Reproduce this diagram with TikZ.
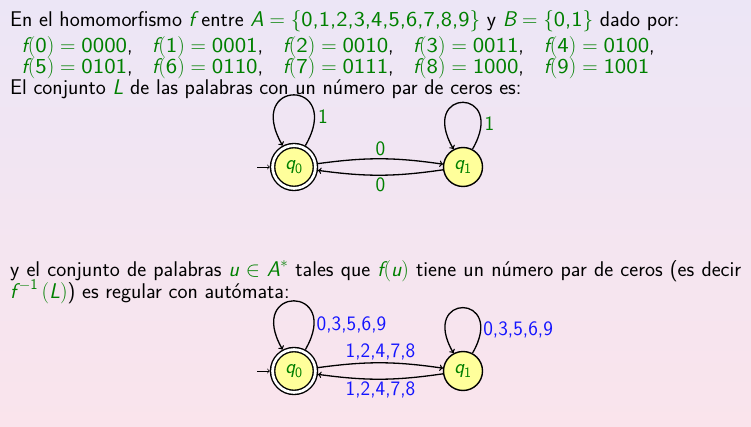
\RequirePackage{fix-cm}
\documentclass[tikz,border=0pt]{standalone}
\usepackage{graphicx}
\definecolor{mg}{RGB}{0,128,0}
\definecolor{mb}{RGB}{20,20,255}
\definecolor{ny}{RGB}{255,255,155}
\definecolor{bgtop}{RGB}{236,230,246}
\definecolor{bgbot}{RGB}{250,228,236}
\newcommand\mi[1]{\textsf{\itshape #1}}
\newcommand\gm[1]{\textcolor{mg}{$#1$}}
\newcommand\dgw[1]{\scalebox{1.14}[1]{\textsf{#1}}}
\newcommand\dgs[1]{\scalebox{1.12}[1]{\textsf{#1}}}
\newcommand\fe[2]{\gm{\mi{f}(\dgw{#1})=\dgw{#2}}}
\newcommand\bodyfont{\fontsize{21.3}{22}\selectfont\sffamily}
\newcommand\lblfont{\fontsize{20.5}{22}\selectfont\sffamily}
\begin{document}
\begin{tikzpicture}[x=1pt,y=1pt,
  txt/.style={anchor=base west, inner sep=0pt, font=\bodyfont},
  state/.style={circle, draw=black, line width=1.4pt, fill=ny, minimum size=39pt, inner sep=0pt, font=\lblfont, text=mg},
  accstate/.style={state, minimum size=42.8pt, double=white, double distance=2.8pt, outer sep=2.8pt},
  edg/.style={->, line width=1.3pt, draw=black},
  startedg/.style={->, line width=0.8pt, draw=black},
  glbl/.style={font=\lblfont, text=mg, inner sep=2pt},
  blbl/.style={font=\lblfont, text=mb, inner sep=2pt}]
\shade[top color=bgtop, bottom color=bgbot] (0,0) rectangle (751,-427);
\useasboundingbox (0,0) rectangle (751,-427);

% text
\node[txt] (l1) at (10,-26.7) {En el homomorfismo \gm{\mi{f}} entre \gm{\mi{A}=\{\dgs{0,1,2,3,4,5,6,7,8,9}\}} y \gm{\mi{B}=\{\dgs{0,1}\}} dado por:};
\node[txt] (f0) at (21.5,-52.7) {\fe{0}{0000},};
\node[txt] (f1) at (152,-52.7) {\fe{1}{0001},};
\node[txt] (f2) at (282.6,-52.7) {\fe{2}{0010},};
\node[txt] (f3) at (412.8,-52.7) {\fe{3}{0011},};
\node[txt] (f4) at (543.6,-52.7) {\fe{4}{0100},};
\node[txt] (f5) at (21.5,-73.3) {\fe{5}{0101},};
\node[txt] (f6) at (152,-73.3) {\fe{6}{0110},};
\node[txt] (f7) at (282.6,-73.3) {\fe{7}{0111},};
\node[txt] (f8) at (412.8,-73.3) {\fe{8}{1000},};
\node[txt] (f9) at (543.6,-73.3) {\fe{9}{1001}};
\node[txt] (l4) at (10,-94.3) {El conjunto \gm{\mi{L}} de las palabras con un número par de ceros es:};
\node[txt] (l5) at (10,-276.7) {\makebox[731pt][s]{y el conjunto de palabras \gm{\mi{u}\in\mi{A}^*} tales que \gm{\mi{f}(\mi{u})} tiene un número par de ceros (es decir}};
\node[txt] (l6) at (10,-298.5) {\gm{\mi{f}^{\,-\mathsf{1}}\,(\mi{L})}) es regular con autómata:};

% top automaton
\node[accstate] (a0) at (294,-167) {$\mi{q}_{\mathsf{0}}$};
\node[state] (a1) at (463,-167) {$\mi{q}_{\mathsf{1}}$};
\coordinate (sa) at (257,-167);
\draw[startedg] (sa) -- (a0);
\draw[edg] (a0.62) .. controls +(60:78) and +(120:78) .. (a0.118) node[glbl, anchor=west, pos=0.17, inner sep=3pt] {1};
\draw[edg] (a1.62) .. controls +(60:72) and +(120:72) .. (a1.118) node[glbl, anchor=west, pos=0.16, inner sep=3pt] {1};
\draw[edg] (a0) to[bend left=8] node[glbl, above] {0} (a1);
\draw[edg] (a1) to[bend left=8] node[glbl, below] {0} (a0);

% bottom automaton
\node[accstate] (b0) at (294,-371) {$\mi{q}_{\mathsf{0}}$};
\node[state] (b1) at (463,-371) {$\mi{q}_{\mathsf{1}}$};
\coordinate (sb) at (257,-371);
\draw[startedg] (sb) -- (b0);
\draw[edg] (b0.62) .. controls +(60:75) and +(120:75) .. (b0.118) node[blbl, right, pos=0.15] {0,3,5,6,9};
\draw[edg] (b1.62) .. controls +(60:70) and +(120:70) .. (b1.118) node[blbl, right, pos=0.15] {0,3,5,6,9};
\draw[edg] (b0) to[bend left=8] node[blbl, above] {1,2,4,7,8} (b1);
\draw[edg] (b1) to[bend left=8] node[blbl, below] {1,2,4,7,8} (b0);
\end{tikzpicture}
\end{document}
